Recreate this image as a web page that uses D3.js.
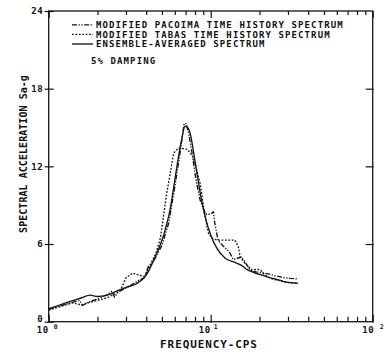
<!DOCTYPE html>
<html><head><meta charset="utf-8">
<script src="https://cdn.jsdelivr.net/npm/d3@7"></script>
<style>
html,body{margin:0;padding:0;background:#fff;}
svg text{font-family:"DejaVu Sans Mono",monospace;font-weight:bold;fill:#111;}
</style></head>
<body><svg id="c" width="384" height="353"></svg>
<script>
// ---- data ----
const pacoimaFreq = [1.0,1.2,1.4,1.55,1.62,1.75,2.0,2.3,2.45,2.55,2.7,3.0,3.3,3.6,3.9,4.1,4.5,5.0,5.5,6.0,6.5,6.85,7.05,7.3,7.7,8.1,8.6,9.3,10.0,10.4,10.6,11.1,11.6,12.3,13.0,13.8,14.6,15.5,16.3,17.5,19.0,20.5,22.5,25.0,28.0,31.0,34.5];
const pacoimaSa   = [0.95,1.25,1.5,1.65,1.25,1.5,1.75,2.1,2.35,1.9,2.3,2.6,2.9,3.2,3.4,4.2,4.8,5.9,7.6,10.4,13.2,15.3,15.3,14.6,12.9,11.0,9.4,8.3,8.3,8.5,7.6,6.3,6.0,5.7,5.4,4.8,4.9,5.0,4.6,4.0,3.85,3.8,3.7,3.55,3.42,3.35,3.3];
const tabasFreq = [1.0,1.2,1.4,1.6,1.8,2.0,2.3,2.6,2.8,3.0,3.3,3.6,3.9,4.2,4.6,4.9,5.35,5.9,6.3,6.6,7.2,7.8,8.6,9.1,9.7,10.3,11.1,12.3,14.1,14.8,15.2,16.3,18.0,19.5,20.5,21.5,24.0,28.0,31.0,34.5];
const tabasSa   = [0.9,1.2,1.45,1.3,1.5,1.65,1.85,2.2,2.5,3.4,3.75,3.6,3.5,4.3,5.3,6.5,9.9,13.0,13.4,13.4,13.3,12.7,10.7,8.6,6.8,6.4,6.3,6.3,6.3,5.8,5.0,4.5,4.0,4.05,3.95,3.6,3.3,3.1,3.0,2.97];
const ensembleFreq = [1.0,1.3,1.6,1.8,2.0,2.3,2.6,3.0,3.5,4.0,4.5,5.1,5.6,6.0,6.3,6.6,6.95,7.2,7.45,8.0,8.6,9.2,10.0,11.0,12.3,14.0,15.5,16.9,18.5,20.0,22.5,25.0,28.0,31.0,34.5];
const ensembleSa   = [1.0,1.5,1.85,2.05,1.95,2.05,2.35,2.65,2.95,3.6,4.9,6.6,8.6,10.9,12.6,14.0,15.1,15.0,14.6,12.4,10.0,8.2,6.7,5.6,4.9,4.6,4.35,4.0,3.8,3.65,3.45,3.3,3.12,3.02,2.97];
const yTicks = [0,6,12,18,24];
const xMajor = [1,10,100];
const xMinor = [2,3,4,5,6,7,8,9,20,30,40,50,60,70,80,90];
const xMajorExp = ["0","1","2"];
const legendLabels = ["MODIFIED PACOIMA TIME HISTORY SPECTRUM","MODIFIED TABAS TIME HISTORY SPECTRUM","ENSEMBLE-AVERAGED SPECTRUM"];
const note = "5% DAMPING";
const yTitle = "SPECTRAL ACCELERATION Sa-g";
const xTitle = "FREQUENCY-CPS";

// ---- layout ----
const L=48.7, R=372.7, T=11, B=321.7;
const svg = d3.select("#c");
const x = d3.scaleLog().domain([1,100]).range([L,R]);
const y = d3.scaleLinear().domain([0,24]).range([B,T]);
const ink = "#151515";

// frame
svg.append("rect").attr("x",L).attr("y",T).attr("width",R-L).attr("height",B-T)
  .attr("fill","none").attr("stroke",ink).attr("stroke-width",1.3);

function styleAxis(g){ g.select(".domain").remove(); g.selectAll("line").attr("stroke",ink).attr("stroke-width",1.2); }
// bottom axis ticks (inward)
svg.append("g").attr("transform",`translate(0,${B})`).call(d3.axisTop(x).tickValues(xMinor).tickSize(5).tickFormat("")).call(styleAxis);
svg.append("g").attr("transform",`translate(0,${B+1})`).call(d3.axisTop(x).tickValues(xMajor).tickSize(8).tickFormat("")).call(styleAxis);
// top axis ticks (inward)
svg.append("g").attr("transform",`translate(0,${T})`).call(d3.axisBottom(x).tickValues(xMinor).tickSize(4).tickFormat("")).call(styleAxis);
svg.append("g").attr("transform",`translate(0,${T})`).call(d3.axisBottom(x).tickValues(xMajor).tickSize(7).tickFormat("")).call(styleAxis);
// left axis ticks crossing
svg.append("g").attr("transform",`translate(${L+5},0)`).call(d3.axisLeft(y).tickValues(yTicks).tickSize(9).tickFormat("")).call(styleAxis);
// right axis ticks
svg.append("g").attr("transform",`translate(${R+1},0)`).call(d3.axisLeft(y).tickValues(yTicks.slice(1,4)).tickSize(8).tickFormat("")).call(styleAxis);

// y tick labels
svg.append("g").selectAll("text").data(yTicks).join("text")
  .attr("x",L-5.5).attr("y",d=>d===0 ? y(d)+0.6 : y(d)+3.4).attr("text-anchor","end")
  .attr("font-size",9).attr("letter-spacing",0.6).text(d=>d);
// x tick labels
const xl = svg.append("g").selectAll("g").data(xMajor).join("g");
xl.append("text").attr("x",(d,i)=>x(d)-12+(i===2?1.5:0)).attr("y",B+11.3)
  .attr("font-size",9).attr("letter-spacing",0.6).text("10");
xl.append("text").attr("x",(d,i)=>x(d)+5+(i===1?-2:(i===2?2:0))).attr("y",B+7.5)
  .attr("font-size",6.5).text((d,i)=>xMajorExp[i]);

// titles
svg.append("text").attr("x",209).attr("y",347.5).attr("text-anchor","middle")
  .attr("font-size",11).attr("letter-spacing",0.9).text(xTitle);
svg.append("text").attr("transform","translate(26.5,154) rotate(-90)").attr("text-anchor","middle")
  .attr("font-size",10).attr("letter-spacing",0.05).text(yTitle);

// series
const series = [
  {f:pacoimaFreq, v:pacoimaSa, dash:"5,1.5,1.3,1.5,1.3,1.5", curve:d3.curveLinear},
  {f:tabasFreq, v:tabasSa, dash:"1.8,1.6", curve:d3.curveLinear},
  {f:ensembleFreq, v:ensembleSa, dash:null, curve:d3.curveMonotoneX}
];
series.forEach(s=>{
  const pts = s.f.map((f,i)=>[f,s.v[i]]);
  const line = d3.line().x(d=>x(d[0])).y(d=>y(d[1])).curve(s.curve);
  svg.append("path").attr("d",line(pts)).attr("fill","none").attr("stroke",ink)
    .attr("stroke-width",1.35).attr("stroke-dasharray",s.dash).attr("stroke-linejoin","round");
});

// legend
const leg = svg.append("g");
const rowsY = [24.8,34.4,44.0];
series.forEach((s,i)=>{
  leg.append("line").attr("x1",72).attr("x2",93).attr("y1",rowsY[i]).attr("y2",rowsY[i])
    .attr("stroke",ink).attr("stroke-width",1.35).attr("stroke-dasharray",s.dash);
  leg.append("text").attr("x",96).attr("y",rowsY[i]+3.3).attr("font-size",9)
    .attr("letter-spacing",1.1).text(legendLabels[i]);
});
leg.append("text").attr("x",91).attr("y",64).attr("font-size",9).attr("letter-spacing",1.1).text(note);
</script></body></html>
